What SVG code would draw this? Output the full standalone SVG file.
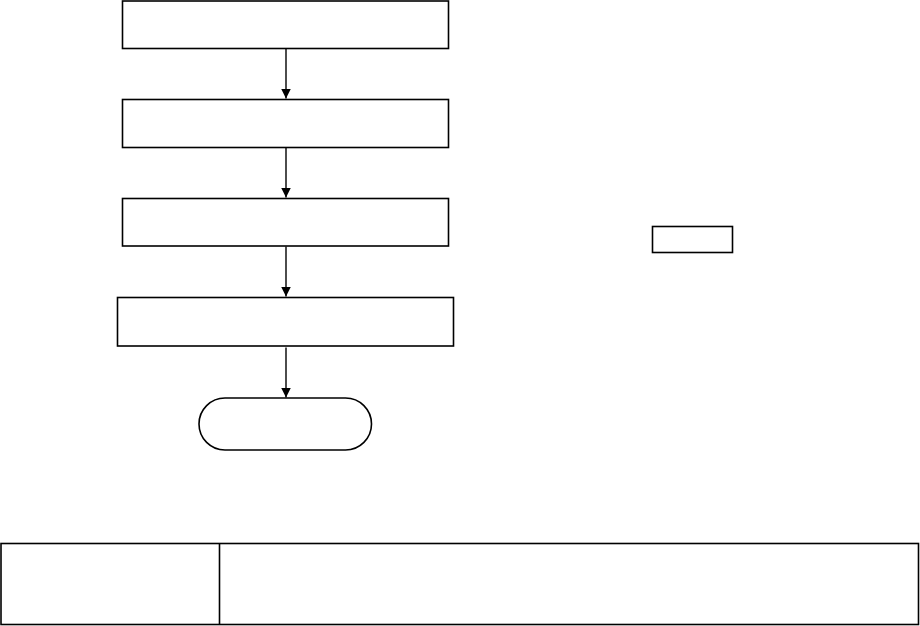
<svg xmlns="http://www.w3.org/2000/svg" width="920" height="626" viewBox="0 0 920 626">
<style>
.box{fill:#fff;stroke:#000;stroke-width:1.6}
.ln{fill:none;stroke:#000;stroke-width:1.4}
</style>
<defs>
<marker id="ah" markerWidth="10" markerHeight="10" refX="10" refY="5" orient="auto" markerUnits="userSpaceOnUse">
<path d="M0,0 L10,5 L0,10 Z" fill="#000"/>
</marker>
</defs>
<rect width="920" height="626" fill="#fff"/>
<g id="connectors">
<line class="ln" x1="286" y1="48.5" x2="286" y2="98.5" marker-end="url(#ah)"/>
<line class="ln" x1="286" y1="147.5" x2="286" y2="197.5" marker-end="url(#ah)"/>
<line class="ln" x1="286" y1="246.5" x2="286" y2="296.5" marker-end="url(#ah)"/>
<line class="ln" x1="286" y1="347.5" x2="286" y2="397.5" marker-end="url(#ah)"/>
</g>
<g id="n1"><rect class="box" x="122.5" y="1" width="326" height="47.5"/></g>
<g id="n2"><rect class="box" x="122.5" y="99.5" width="326" height="48"/></g>
<g id="n3"><rect class="box" x="122.5" y="198.5" width="326" height="47.5"/></g>
<g id="n4"><rect class="box" x="117.5" y="297.5" width="336" height="48.5"/></g>
<g id="n5"><rect class="box" x="199" y="398" width="172.5" height="52" rx="26" ry="26"/></g>
<g id="n6"><rect class="box" x="652.5" y="226.5" width="80" height="26"/></g>
<g id="table">
<rect class="box" x="1" y="543.5" width="917.5" height="81"/>
<line class="ln" x1="219.5" y1="543.5" x2="219.5" y2="624.5" style="stroke-width:1.6"/>
</g>
</svg>
